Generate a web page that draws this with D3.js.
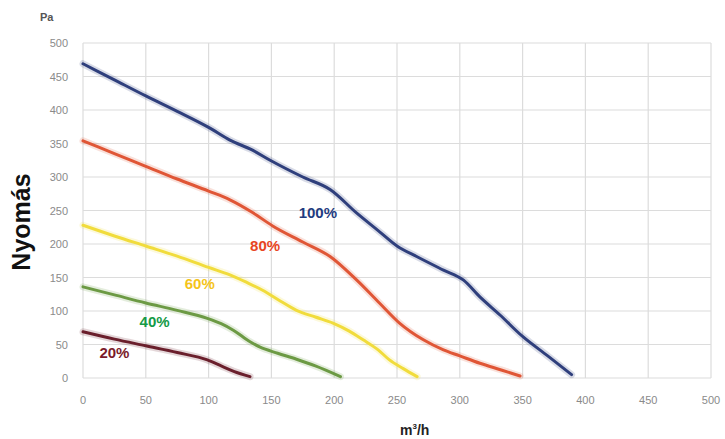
<!DOCTYPE html>
<html>
<head>
<meta charset="utf-8">
<script src="https://cdn.jsdelivr.net/npm/d3@7"></script>
<style>
  body { margin: 0; background: #fff; }
  text { font-family: "Liberation Sans", Arial, sans-serif; }
</style>
</head>
<body>
<script>
// fan curves (m3/h, Pa)
var curve100 = [[0,469],[25,445],[50,421],[75,398],[100,374],[117,355],[135,340],[149,325],[175,300],[197,281],[218,246],[235,220],[250,197],[266,181],[287,161],[303,146],[316,121],[332,94],[350,62],[370,33],[389,5]];
var curve80 = [[0,354],[25,335],[50,316],[75,297],[100,279],[117,266],[135,247],[151,227],[175,203],[197,181],[218,146],[236,112],[252,82],[271,57],[287,42],[300,33],[316,22],[333,12],[348,3]];
var curve60 = [[0,228],[25,212],[50,197],[75,182],[100,165],[117,154],[130,143],[143,131],[157,115],[170,101],[185,91],[199,82],[212,70],[223,57],[235,42],[244,27],[255,14],[266,2]];
var curve40 = [[0,136],[25,124],[50,112],[75,101],[99,89],[110,81],[120,71],[133,54],[141,46],[155,37],[170,28],[185,18],[205,2]];
var curve20 = [[0,69],[25,58],[50,48],[75,38],[99,27],[110,18],[120,10],[133,2]];

var seriesNames = ["100%", "80%", "60%", "40%", "20%"];
var seriesData = [curve100, curve80, curve60, curve40, curve20];
var lineColors = ["#2f3f7c", "#e05636", "#f1dc3c", "#6c9a44", "#6a1f2c"];
var labelColors = ["#1f3c80", "#e8461f", "#f5c419", "#149a46", "#7b1b2b"];
var labelAt = [[187,239],[145,190],[93,133],[57,76],[25,30]];

var xTicks = [0,50,100,150,200,250,300,350,400,450,500];
var yTicks = [0,50,100,150,200,250,300,350,400,450,500];

var width = 725, height = 439;
var svg = d3.select("body").append("svg")
    .attr("width", width)
    .attr("height", height);

var x = d3.scaleLinear().domain([0, 500]).range([83, 711]);
var y = d3.scaleLinear().domain([0, 500]).range([378, 43]);

// grid
svg.selectAll(".vg").data(xTicks).enter().append("line")
    .attr("x1", function(d){ return x(d); })
    .attr("x2", function(d){ return x(d); })
    .attr("y1", y(500)).attr("y2", y(0))
    .attr("stroke", "#dcdcdc").attr("stroke-width", 1.2);
svg.selectAll(".hg").data(yTicks).enter().append("line")
    .attr("x1", x(0)).attr("x2", x(500))
    .attr("y1", function(d){ return y(d); })
    .attr("y2", function(d){ return y(d); })
    .attr("stroke", "#dcdcdc").attr("stroke-width", 1.2);

// tick labels
svg.selectAll(".xl").data(xTicks).enter().append("text")
    .attr("x", function(d){ return x(d); })
    .attr("y", 404)
    .attr("text-anchor", "middle")
    .attr("font-size", 11)
    .attr("fill", "#8a8a8a")
    .text(function(d){ return d; });
svg.selectAll(".yl").data(yTicks).enter().append("text")
    .attr("x", 68)
    .attr("y", function(d){ return y(d) + 4; })
    .attr("text-anchor", "end")
    .attr("font-size", 11)
    .attr("fill", "#8a8a8a")
    .text(function(d){ return d; });

var line = d3.line()
    .x(function(d){ return x(d[0]); })
    .y(function(d){ return y(d[1]); })
    .curve(d3.curveMonotoneX);

// soft glow under each curve
seriesData.forEach(function(s, i){
  svg.append("path")
    .datum(s)
    .attr("d", line)
    .attr("fill", "none")
    .attr("stroke", lineColors[i])
    .attr("stroke-opacity", 0.18)
    .attr("stroke-width", 7)
    .attr("stroke-linecap", "round");
  svg.append("path")
    .datum(s)
    .attr("d", line)
    .attr("fill", "none")
    .attr("stroke", lineColors[i])
    .attr("stroke-width", 3)
    .attr("stroke-linecap", "round")
    .attr("stroke-linejoin", "round");
});

svg.selectAll(".lbl").data(seriesNames).enter().append("text")
    .attr("x", function(d, i){ return x(labelAt[i][0]); })
    .attr("y", function(d, i){ return y(labelAt[i][1]); })
    .attr("text-anchor", "middle")
    .attr("font-size", 15)
    .attr("font-weight", "bold")
    .attr("fill", function(d, i){ return labelColors[i]; })
    .text(function(d){ return d; });

// axis titles
svg.append("text")
    .attr("x", 40).attr("y", 21)
    .attr("font-size", 11).attr("font-weight", "bold")
    .attr("fill", "#555")
    .text("Pa");

svg.append("text")
    .attr("transform", "translate(30,222) rotate(-90)")
    .attr("text-anchor", "middle")
    .attr("font-size", 25).attr("font-weight", "bold")
    .attr("fill", "#111")
    .text("Nyomás");

var xt = svg.append("text")
    .attr("x", 400).attr("y", 435)
    .attr("font-size", 14).attr("font-weight", "bold")
    .attr("fill", "#222");
xt.append("tspan").text("m");
xt.append("tspan").attr("font-size", 8).attr("dy", -6).text("3");
xt.append("tspan").attr("dy", 6).text("/h");
</script>
</body>
</html>
